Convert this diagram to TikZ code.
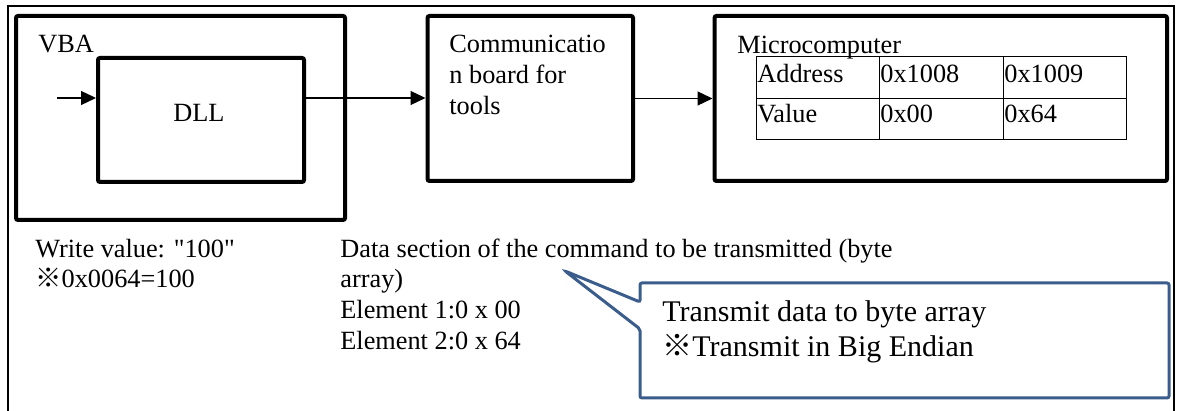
\documentclass[tikz,border=0pt]{standalone}
\usepackage{fontspec}
\setmainfont{Liberation Serif}[Ligatures=TeXOff]
\newfontfamily\cjk{Noto Sans CJK JP}
\usetikzlibrary{arrows.meta}
\newcommand{\kome}{{\cjk ※}}
\definecolor{noteblue}{RGB}{59,93,140}
\tikzset{
	blk/.style={draw,line width=2pt,rounded corners=1pt,inner sep=0pt},
	txt/.style={inner sep=0pt,anchor=base west,align=left,font=\fontsize{13.15pt}{15.4pt}\selectfont},
	flow/.style={line width=0.65pt,-{Triangle[length=7.5pt,width=7pt]}}
}

\begin{document}
\begin{tikzpicture}[x=0.5pt,y=-0.5pt]
	\useasboundingbox (0,0) rectangle (1180,411);
	% outer frame, open at the bottom
	\draw[line width=1pt] (7.8,411) -- (7.8,6) -- (1174,6) -- (1174,411);
	% blocks
	\node (vba) [blk,minimum width=164.5pt,minimum height=102pt] at (180.5,118) {};
	\node (dll) [blk,minimum width=103pt,minimum height=62pt] at (201,120) {};
	\node (comm) [blk,minimum width=102.75pt,minimum height=82.5pt] at (530.25,98.5) {};
	\node (micro) [blk,minimum width=226.25pt,minimum height=82.5pt] at (940.75,98.5) {};
	% (base of a multi-line text = its last line)
	\node (vbalbl) [txt] at (38,53) {VBA};
	\node (dlllbl) [txt,anchor=base] at (199,122) {DLL};
	\node (commlbl) [txt] at (449,114.6) {Communicatio\\n board for\\tools};
	\node (microlbl) [txt] at (737,54) {Microcomputer};
	% memory table
	\draw[line width=0.5pt] (756,57) rectangle (1126,140) (756,99) -- (1126,99)
		(879,57) -- (879,140) (1003,57) -- (1003,140);
	\foreach \t/\x [count=\i] in {Address/757,0x1008/880,0x1009/1004}
		\node (addr\i) [txt] at (\x,83) {\t};
	\foreach \t/\x [count=\i] in {Value/757,0x00/880,0x64/1004}
		\node (val\i) [txt] at (\x,123) {\t};
	% flow
	\coordinate (in) at (57,98);
	\draw[flow] (in) -- (in -| dll.west);
	\draw[flow] (in -| dll.east) -- (in -| comm.west);
	\draw[flow] (comm.east) -- (micro.west);
	% notes
	\node (write) [txt] at (35,288) {Write value: "100"\\\kome0x0064=100};
	\node (data) [txt] at (340,349.4) {Data section of the command to be transmitted (byte\\array)\\Element 1:0 x 00\\Element 2:0 x 64};
	\draw[noteblue,line width=1.5pt,fill=white,rounded corners=1pt] (640,283) -- (1169,283) -- (1169,398)
		-- (640,398) -- (640,329) -- (565,271) -- (640,302) -- cycle;
	\node (note) [txt,font=\fontsize{15pt}{17.5pt}\selectfont] at (662,357) {Transmit data to byte array\\\kome Transmit in Big Endian};
\end{tikzpicture}
\end{document}
